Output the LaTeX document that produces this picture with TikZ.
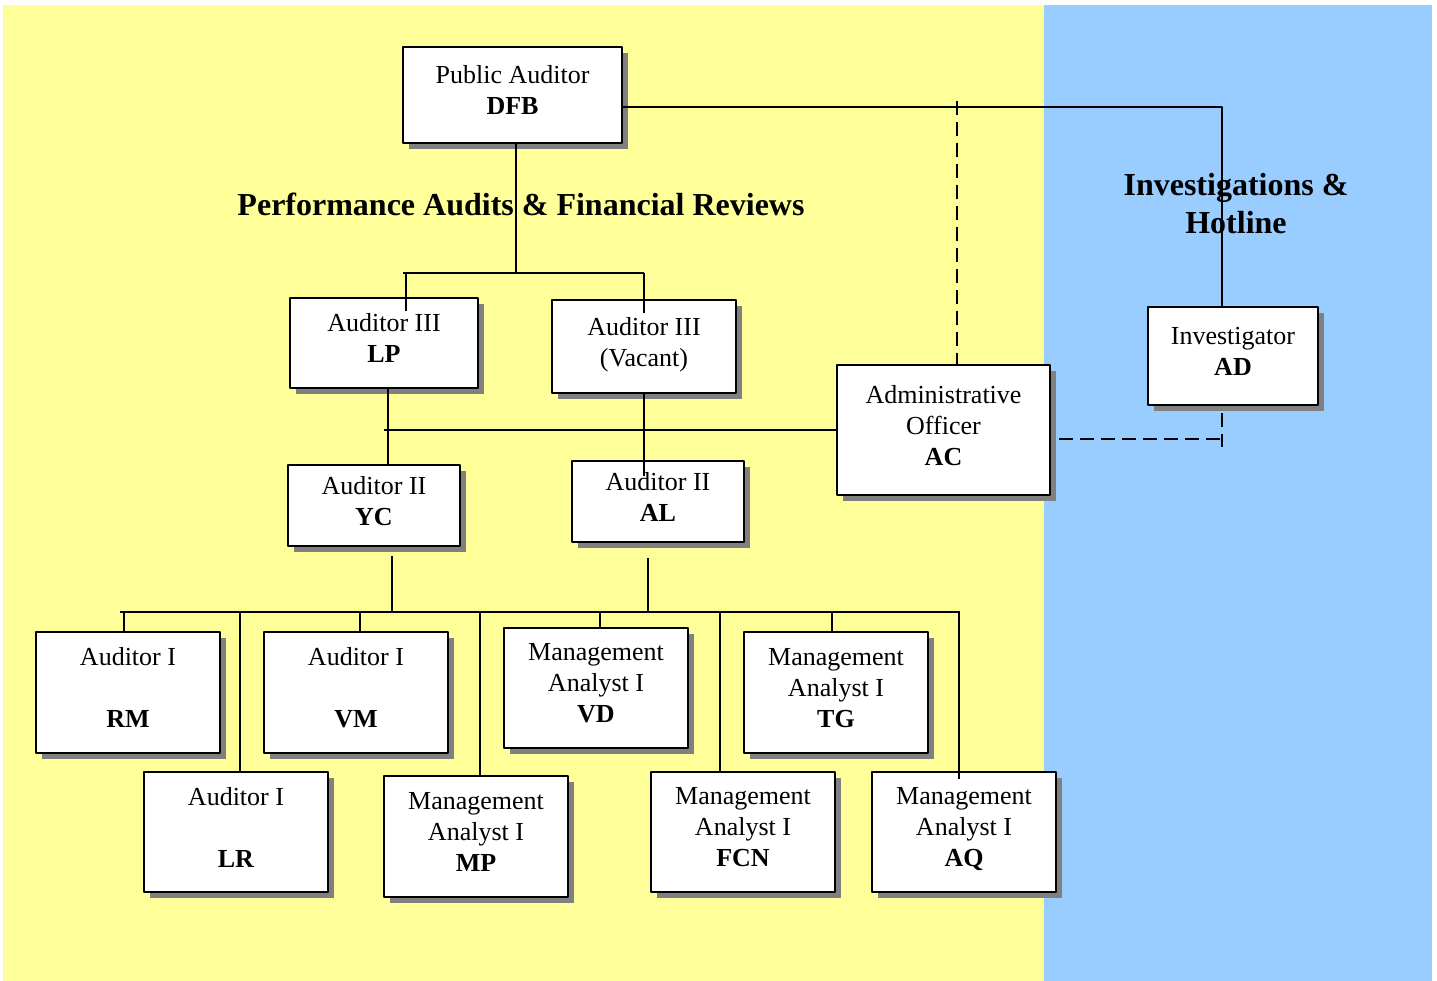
\documentclass[tikz,border=0pt]{standalone}
\usepackage{fontspec}
\setmainfont{Liberation Serif}
\usetikzlibrary{shadows}
\definecolor{paleyellow}{RGB}{255,255,153}
\definecolor{paleblue}{RGB}{153,204,255}
\tikzset{
  box/.style={draw,fill=white,line width=1.1pt,align=center,inner sep=2pt,
    font=\fontsize{13}{15.5}\selectfont,
    execute at end node={\rule[-5pt]{0pt}{0pt}},
    drop shadow={shadow xshift=3pt,shadow yshift=-3pt,fill=gray,opacity=1}},
  sz/.style 2 args={minimum width=#1*0.5pt,minimum height=#2*0.5pt},
  conn/.style={line width=1pt},
  dashconn/.style={line width=1pt,dash pattern=on 7pt off 3.5pt},
  title/.style={font=\fontsize{16}{19}\selectfont\bfseries,align=center}
}
\begin{document}
\begin{tikzpicture}[x=0.5pt,y=-0.5pt,line join=round]
	%Background
	\useasboundingbox (0,0) rectangle (1437,981);
	\fill[white] (0,0) rectangle (1437,981);
	\fill[paleyellow] (3,5) rectangle (1044,981);
	\fill[paleblue] (1044,5) rectangle (1432,981);
	%Titles
	\node[title] (perf) at (521,204) {Performance Audits \& Financial Reviews};
	\node[title] (inv) at (1236,204) {Investigations \&\\Hotline};
	%Boxes
	\node[box,sz={219}{96}] (dfb) at (512.5,95) {Public Auditor\\\textbf{DFB}};
	\node[box,sz={188}{90}] (lp) at (384,343) {Auditor III\\\textbf{LP}};
	\node[box,sz={184}{93}] (vac) at (644,346.5) {Auditor III\\(Vacant)};
	\node[box,sz={172}{81}] (yc) at (374,505.5) {Auditor II\\\textbf{YC}};
	\node[box,sz={172}{81}] (al) at (658,501.5) {Auditor II\\\textbf{AL}};
	\node[box,sz={213}{130}] (ac) at (943.5,430) {Administrative\\Officer\\\textbf{AC}};
	\node[box,sz={170}{98}] (ad) at (1233,356) {Investigator\\\textbf{AD}};
	\node[box,sz={184}{121}] (rm) at (128,692.5) {Auditor I\\[15.5pt]\textbf{RM}};
	\node[box,sz={184}{121}] (vm) at (356,692.5) {Auditor I\\[15.5pt]\textbf{VM}};
	\node[box,sz={184}{120}] (vd) at (596,688) {Management\\Analyst I\\\textbf{VD}};
	\node[box,sz={184}{121}] (tg) at (836,692.5) {Management\\Analyst I\\\textbf{TG}};
	\node[box,sz={184}{120}] (lr) at (236,832) {Auditor I\\[15.5pt]\textbf{LR}};
	\node[box,sz={184}{121}] (mp) at (476,836.5) {Management\\Analyst I\\\textbf{MP}};
	\node[box,sz={184}{120}] (fcn) at (743,832) {Management\\Analyst I\\\textbf{FCN}};
	\node[box,sz={184}{120}] (aq) at (964,832) {Management\\Analyst I\\\textbf{AQ}};
	%Top level
	\coordinate (topW) at (403,273);
	\coordinate (topE) at (644,273);
	\draw[conn] ([xshift=1.75pt]dfb.south) -- ([xshift=1.75pt]dfb.south |- topW);
	\draw[conn] (topW) -- (topE);
	\draw[conn] ([xshift=11pt]lp.north |- topW) -- ([xshift=11pt,yshift=-7pt]lp.north);
	\draw[conn] (topE) -- ([yshift=-7pt]vac.north);
	%Middle level
	\draw[conn] ([xshift=2pt]lp.south) -- ([xshift=2pt]lp.south |- yc.north);
	\draw[conn] (lp.south |- ac.west) -- (ac.west);
	\draw[conn] (vac.south) -- ([yshift=-8pt]vac.south |- al.north);
	%Bottom level
	\coordinate (botW) at (120,612);
	\coordinate (botE) at (960,612);
	\draw[conn] (botW) -- (botE);
	\draw[conn] ([xshift=9pt,yshift=-4.5pt]yc.south) -- ([xshift=9pt]yc.south |- botW);
	\draw[conn] ([xshift=-5pt,yshift=-7.5pt]al.south) -- ([xshift=-5pt]al.south |- botW);
	\foreach \n/\dx in {rm/-2pt,vm/2pt,vd/2pt,tg/-2pt,lr/2pt,mp/2pt}
		\draw[conn] ([xshift=\dx]\n.north |- botW) -- ([xshift=\dx]\n.north);
	\draw[conn] ([xshift=-11.5pt]fcn.north |- botW) -- ([xshift=-11.5pt]fcn.north);
	\draw[conn] ([xshift=-2.5pt]aq.north |- botE) -- ([xshift=-2.5pt,yshift=-4pt]aq.north);
	%Side links
	\draw[conn] ([yshift=-6pt]dfb.east) -| ([xshift=-5.5pt]ad.north);
	\coordinate (dashTop) at (957,101);
	\draw[dashconn] (dashTop) -- (dashTop |- ac.north);
	\coordinate (adTick) at (1222,447);
	\draw[dashconn] ([xshift=4pt,yshift=-4.5pt]ac.east) -- ([yshift=-4.5pt]ac.east -| adTick);
	\draw[dashconn] ([xshift=-5.5pt,yshift=-3.5pt]ad.south) -- (adTick);
\end{tikzpicture}
\end{document}
